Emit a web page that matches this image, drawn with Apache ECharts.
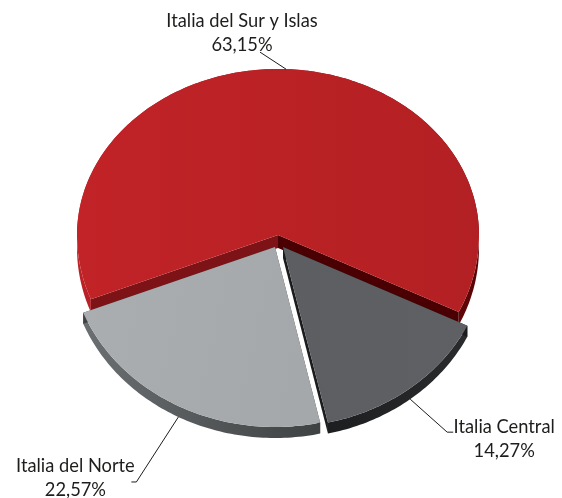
<!DOCTYPE html>
<html>
<head>
<meta charset="utf-8">
<style>
  html, body { margin: 0; padding: 0; background: #fff; }
  #chart { width: 562px; height: 498px; }
</style>
</head>
<body>
<div id="chart"></div>
<script src="https://cdn.jsdelivr.net/npm/echarts@6/dist/echarts.min.js"></script>
<script>
const categories = ["Italia del Sur y Islas", "Italia Central", "Italia del Norte"];
const shares = [63.15, 14.27, 22.57];

const startAngle = 248.6; // degrees clockwise from the top
const grad = (x2, y2, from, to) =>
  new echarts.graphic.LinearGradient(0, 0, x2, y2, [
    { offset: 0, color: from },
    { offset: 1, color: to }
  ]);

// each slice has its own apex because the pie is exploded and seen in perspective
const sliceStyles = [
  {
    cx: 278, cy: 235, rx: 201, ryTop: 166, ryBottom: 176, depth: 13,
    top: grad(1, 0, "#c12327", "#b32023"),
    wall: grad(1, 0, "#bb2226", "#5a0406"),
    startFace: "#7d1316", endFace: "#4a0002",
    leader: [[-26, -17]], labelAt: [-44, -36]
  },
  {
    cx: 283, cy: 247, rx: 205, ryTop: 180, ryBottom: 180, depth: 11,
    top: grad(1, 0, "#5c5e61", "#5e6063"),
    wall: grad(1, 0, "#1d1e20", "#2a2b2d"),
    startFace: "#1b1c1e", endFace: "#1b1c1e",
    leader: [[37, 33], [43, 33]], labelAt: [94, 39.5]
  },
  {
    cx: 275, cy: 247, rx: 206, ryTop: 180, ryBottom: 180, depth: 11,
    top: grad(1, 0.3, "#abaeb0", "#a5a8aa"),
    wall: grad(1, 0, "#6c6f71", "#3e4243"),
    startFace: "#3e4243", endFace: "#3e4243",
    leader: [[-42, 65], [-47, 65]], labelAt: [-103, 61]
  }
];

const fmt = (v) => v.toFixed(2).replace(".", ",") + "%";
const total = shares.reduce((a, b) => a + b, 0);

function rimPoint(s, deg) {
  const r = (deg * Math.PI) / 180;
  const c = Math.cos(r);
  return [s.cx + s.rx * Math.sin(r), s.cy - (c > 0 ? s.ryTop : s.ryBottom) * c];
}

function renderSlice(params, api) {
  const i = params.dataIndex;
  const s = sliceStyles[i];
  let before = 0;
  for (let k = 0; k < i; k++) before += shares[k];
  const from = startAngle + (before / total) * 360;
  const to = from + (api.value(1) / total) * 360;

  const rim = [];
  for (let a = from; a < to; a += 1) rim.push(rimPoint(s, a));
  rim.push(rimPoint(s, to));
  const apex = [s.cx, s.cy];
  const down = (p) => [p[0], p[1] + s.depth];
  const first = rim[0];
  const last = rim[rim.length - 1];

  const poly = (points, fill) => ({
    type: "polygon",
    shape: { points: points },
    style: { fill: fill }
  });

  // leader starts on the lower rim at the middle of the slice
  const mid = rimPoint(s, (from + to) / 2);
  const start = Math.cos(((from + to) / 2) * Math.PI / 180) < 0 ? down(mid) : mid;
  const leaderPts = [start].concat(s.leader.map((d) => [start[0] + d[0], start[1] + d[1]]));
  const lx = start[0] + s.labelAt[0];
  const ly = start[1] + s.labelAt[1];

  const text = (str, y) => ({
    type: "text",
    style: {
      text: str,
      x: lx,
      y: y,
      align: "center",
      verticalAlign: "middle",
      fontFamily: "Lato",
      fontSize: 18.3,
      fill: "#1d1d1b"
    }
  });

  return {
    type: "group",
    children: [
      poly(rim.concat(rim.map(down).reverse()), s.wall),
      poly([apex, last, down(last), down(apex)], s.endFace),
      poly([apex, first, down(first), down(apex)], s.startFace),
      poly([apex].concat(rim), s.top),
      {
        type: "polyline",
        shape: { points: leaderPts },
        style: { stroke: "#1d1d1b", lineWidth: 1, fill: null }
      },
      text(categories[i], ly - 12),
      text(fmt(api.value(1)), ly + 12)
    ]
  };
}

const chart = echarts.init(document.getElementById("chart"), null, { renderer: "canvas" });
chart.setOption({
  animation: false,
  backgroundColor: "#ffffff",
  series: [
    {
      type: "custom",
      coordinateSystem: "none",
      renderItem: renderSlice,
      data: categories.map((c, i) => [i, shares[i]])
    }
  ]
});
</script>
</body>
</html>
